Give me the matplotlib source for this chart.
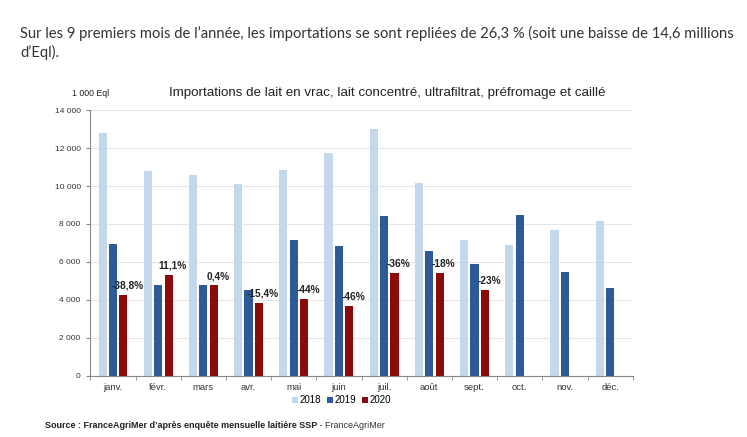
#!/usr/bin/env python3
import numpy as np
import matplotlib
matplotlib.use('Agg')
import matplotlib.pyplot as plt

months = ['janv.', 'févr.', 'mars', 'avr.', 'mai', 'juin', 'juil.', 'août', 'sept.', 'oct.', 'nov.', 'déc.']
v2018 = [12820, 10800, 10570, 10130, 10870, 11750, 13030, 10160, 7160, 6880, 7670, 8140]
v2019 = [6940, 4800, 4760, 4530, 7180, 6820, 8420, 6580, 5880, 8490, 5460, 4650]
v2020 = [4250, 5320, 4760, 3830, 4040, 3690, 5400, 5400, 4530]
pct_labels = ['-38,8%', '11,1%', '0,4%', '-15,4%', '-44%', '-46%', '-36%', '-18%', '-23%']
years = ['2018', '2019', '2020']
colors = ['#c3d8ec', '#2f5a98', '#8b0b0b']

plt.rcParams['font.family'] = ['Liberation Sans', 'DejaVu Sans']

fig = plt.figure(figsize=(7.47, 4.37), dpi=100)
ax = fig.add_axes([0.121, 0.140, 0.726, 0.608])

x = np.arange(len(months))
w = 0.18
off = 0.23
ax.bar(x - off, v2018, w, color=colors[0], label=years[0], zorder=2)
ax.bar(x, v2019, w, color=colors[1], label=years[1], zorder=2)
x20 = x[:len(v2020)] + off
ax.bar(x20, v2020, w, color=colors[2], label=years[2], zorder=2)

for xi, yi, lbl in zip(x20, v2020, pct_labels):
	ax.annotate(lbl, (xi, yi), xytext=(3, 3), textcoords='offset points',
		ha='center', va='bottom', fontsize=7.3, fontweight='bold', color='#222222')

ax.set_xlim(-0.5, len(months) - 0.5)
ax.set_ylim(0, 14000)
ax.set_yticks(np.arange(0, 14001, 2000))
ax.set_yticklabels([f'{v:,}'.replace(',', ' ') for v in range(0, 14001, 2000)], fontsize=6, color='#333333')
ax.set_xticks(x)
ax.set_xticklabels(months, fontsize=6.8, color='#333333')
ax.set_xticks(np.arange(-0.5, len(months), 1), minor=True)
ax.tick_params(axis='x', which='major', length=0, pad=5)
ax.tick_params(axis='x', which='minor', length=3, color='#888888')
ax.tick_params(axis='y', length=3, color='#888888', pad=4)
ax.grid(axis='y', color='#e6e6e6', linewidth=0.8, zorder=0)
for s in ['top', 'right']:
	ax.spines[s].set_visible(False)
for s in ['left', 'bottom']:
	ax.spines[s].set_color('#888888')
	ax.spines[s].set_linewidth(0.8)

ax.legend(loc='upper center', bbox_to_anchor=(0.463, -0.047), ncol=3, frameon=False,
	fontsize=7, handlelength=0.6, handleheight=0.6, handletextpad=0.2, columnspacing=0.6,
	borderpad=0.2)

fig.text(0.5 * (165 + 609) / 747, 1 - 93 / 437, 'Importations de lait en vrac, lait concentré, ultrafiltrat, préfromage et caillé',
	ha='center', va='center', fontsize=9.6, color='#222222')
fig.text(72 / 747, 1 - 94 / 437, '1 000 Eql', ha='left', va='center', fontsize=6.3, color='#222222')

fig.text(20 / 747, 1 - 33 / 437, "Sur les 9 premiers mois de l’année, les importations se sont repliées de 26,3 % (soit une baisse de 14,6 millions",
	ha='left', va='center', fontsize=10.65, family='Lato', color='#333333')
fig.text(20 / 747, 1 - 52 / 437, "d’Eql).", ha='left', va='center', fontsize=10.65, family='Lato', color='#333333')

t = fig.text(45 / 747, 1 - 425 / 437, "Source : FranceAgriMer d’après enquête mensuelle laitière SSP",
	ha='left', va='center', fontsize=6.5, fontweight='bold', color='#222222')
fig.canvas.draw()
bb = t.get_window_extent()
fig.text(bb.x1 / fig.bbox.width, 1 - 425 / 437, " - FranceAgriMer", ha='left', va='center', fontsize=6.5, color='#333333')

fig.savefig('out.png', dpi=100)
plt.close(fig)
